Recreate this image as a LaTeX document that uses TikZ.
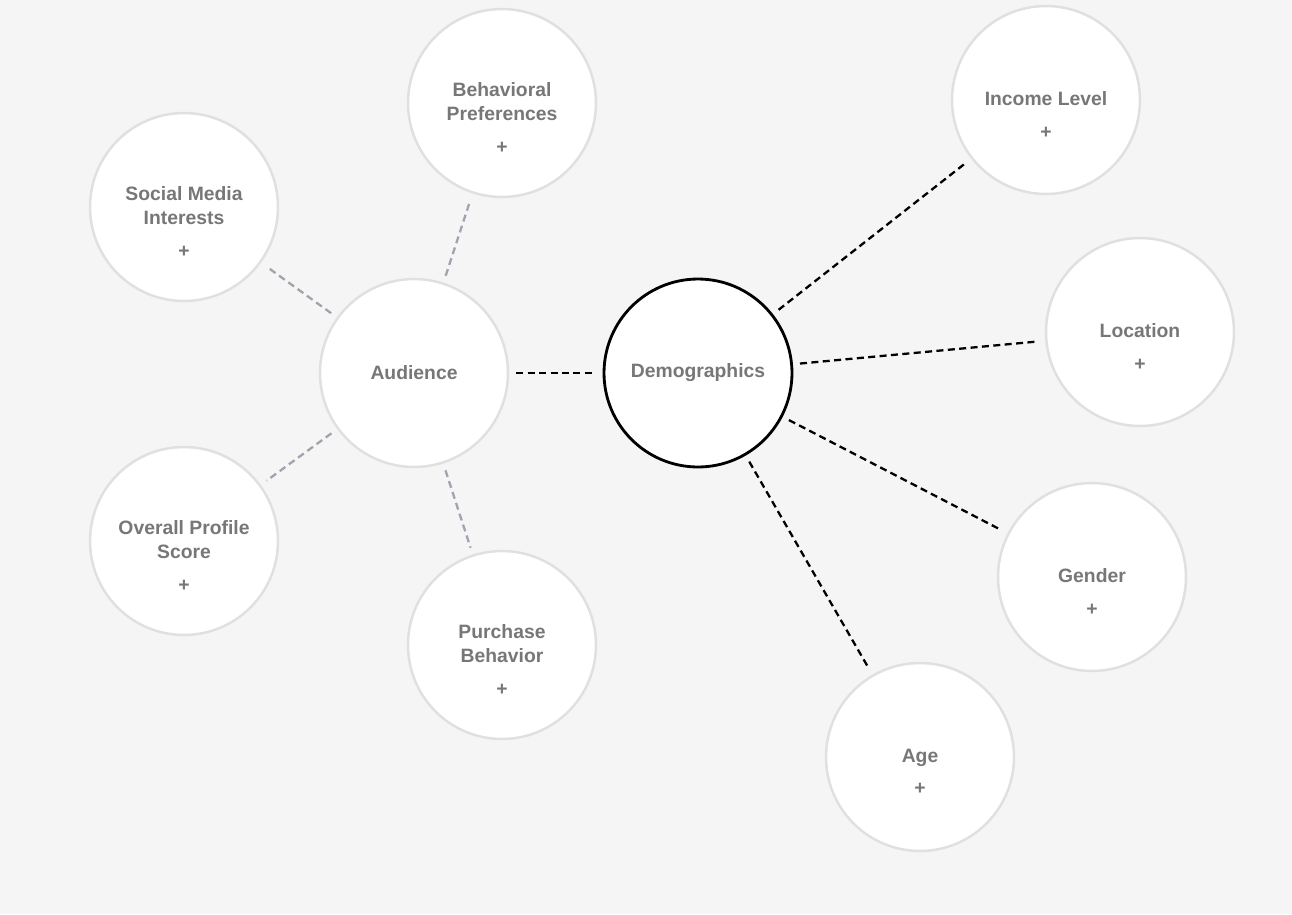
\documentclass[tikz,border=0pt]{standalone}
\usepackage{fontspec}
\setmainfont{Liberation Sans}
\definecolor{bg}{HTML}{F5F5F5}
\definecolor{ring}{HTML}{E0E0E0}
\definecolor{txt}{HTML}{777777}
\definecolor{linkgray}{HTML}{A0A4AE}
\tikzset{
  topic/.style={circle, draw=ring, fill=white, line width=1.4pt, minimum size=3.76cm, inner sep=0pt},
  hub/.style={topic, draw=black, line width=1.6pt},
  caption/.style={align=center, text=txt, font=\fontsize{11}{13.5}\selectfont\bfseries},
  tie/.style={dash pattern=on 4pt off 2.5pt, line width=1.3pt, shorten <=4pt, shorten >=4pt},
}
\newcommand{\leaf}[4]{%
  \node[topic] (#1) at (#2,#3) {};
  \node[caption] (#1-t) at (#2,#3+15) {#4\\[5pt]+};
}
\begin{document}
\begin{tikzpicture}[x=0.02cm, y=-0.02cm]
  \fill[bg] (0,0) rectangle (1292,914);
  \useasboundingbox (0,0) rectangle (1292,914);
  % centres
  \node[topic] (audience) at (414,373) {};
  \node[caption] (audience-t) at (414,373) {Audience};
  \node[hub] (demo) at (698,373) {};
  \node[caption] (demo-t) at (698,373) {Demographics};
  % audience side
  \leaf{behav}{502}{103}{Behavioral\\Preferences}
  \leaf{social}{184}{207}{Social Media\\Interests}
  \leaf{score}{184}{541}{Overall Profile\\Score}
  \leaf{purchase}{502}{645}{Purchase\\Behavior}
  % demographics side
  \leaf{income}{1046}{100}{Income Level}
  \leaf{location}{1140}{332}{Location}
  \leaf{gender}{1092}{577}{Gender}
  \leaf{age}{920}{757}{Age}
  \foreach \n in {behav,social,score,purchase}
    \draw[tie, linkgray] (audience) -- (\n);
  \foreach \n in {income,location,gender,age}
    \draw[tie, black] (demo) -- (\n);
  \draw[tie, black] (audience) -- (demo);
\end{tikzpicture}
\end{document}
